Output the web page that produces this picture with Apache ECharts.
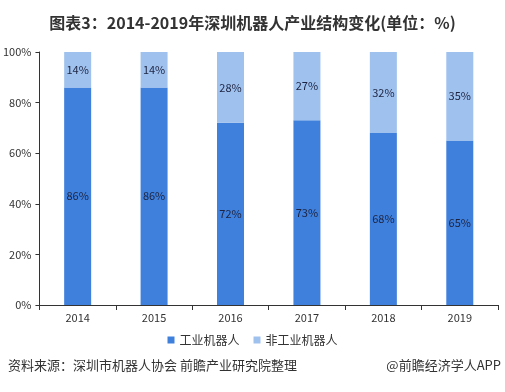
<!DOCTYPE html>
<html><head><meta charset="utf-8">
<script src="https://cdn.jsdelivr.net/npm/echarts@6/dist/echarts.min.js"></script>
<style>html,body{margin:0;padding:0;background:#fff}#c{width:505px;height:392px}</style>
</head><body><div id="c"></div>
<script>
var years = ['2014','2015','2016','2017','2018','2019'];
var industrial = [86, 86, 72, 73, 68, 65];
var nonIndustrial = [14, 14, 28, 27, 32, 35];
var yTicks = ['0%','20%','40%','60%','80%','100%'];
var seriesNames = ['工业机器人','非工业机器人'];

var font = '"Noto Sans CJK SC", "Liberation Sans", sans-serif';
var chart = echarts.init(document.getElementById('c'), null, {renderer:'canvas'});
chart.setOption({
  animation:false,
  textStyle:{fontFamily:font},
  title:{text:'图表3：2014-2019年深圳机器人产业结构变化(单位：%)', left:'center', top:10,
    textStyle:{fontSize:16, fontWeight:'bold', color:'#333', fontFamily:font}},
  grid:{left:36, right:7, top:52, bottom:87},
  legend:{data:seriesNames, bottom:41, left:'center', icon:'rect', itemWidth:7, itemHeight:7, itemGap:14,
    textStyle:{fontSize:12, color:'#333', fontFamily:font}},
  xAxis:{type:'category', data:years,
    axisLine:{lineStyle:{color:'#333'}}, axisTick:{show:true, alignWithLabel:false, length:5, lineStyle:{color:'#333'}},
    axisLabel:{color:'#333', fontSize:11, margin:7, fontFamily:font}},
  yAxis:{type:'value', min:0, max:100, interval:20,
    axisLine:{show:true, lineStyle:{color:'#333'}}, axisTick:{show:true, length:4, lineStyle:{color:'#333'}},
    splitLine:{show:false},
    axisLabel:{color:'#333', fontSize:11, margin:8, fontFamily:font, formatter:function(v){return yTicks[v/20];}}},
  series:[
    {name:seriesNames[0], type:'bar', stack:'a', data:industrial, barWidth:27,
     itemStyle:{color:'#3f80dc'},
     label:{show:true, position:'inside', formatter:'{c}%', color:'#1d2340', fontSize:11, fontFamily:font}},
    {name:seriesNames[1], type:'bar', stack:'a', data:nonIndustrial, barWidth:27,
     itemStyle:{color:'#9fc1ee'},
     label:{show:true, position:'inside', formatter:'{c}%', color:'#1d2340', fontSize:11, fontFamily:font}}
  ],
  graphic:[
    {type:'text', left:8, top:359, style:{text:'资料来源：深圳市机器人协会 前瞻产业研究院整理', fontSize:13, fill:'#333', fontFamily:font}},
    {type:'text', right:4, top:359, style:{text:'@前瞻经济学人APP', fontSize:13, fill:'#333', fontFamily:font}}
  ]
});
</script></body></html>
